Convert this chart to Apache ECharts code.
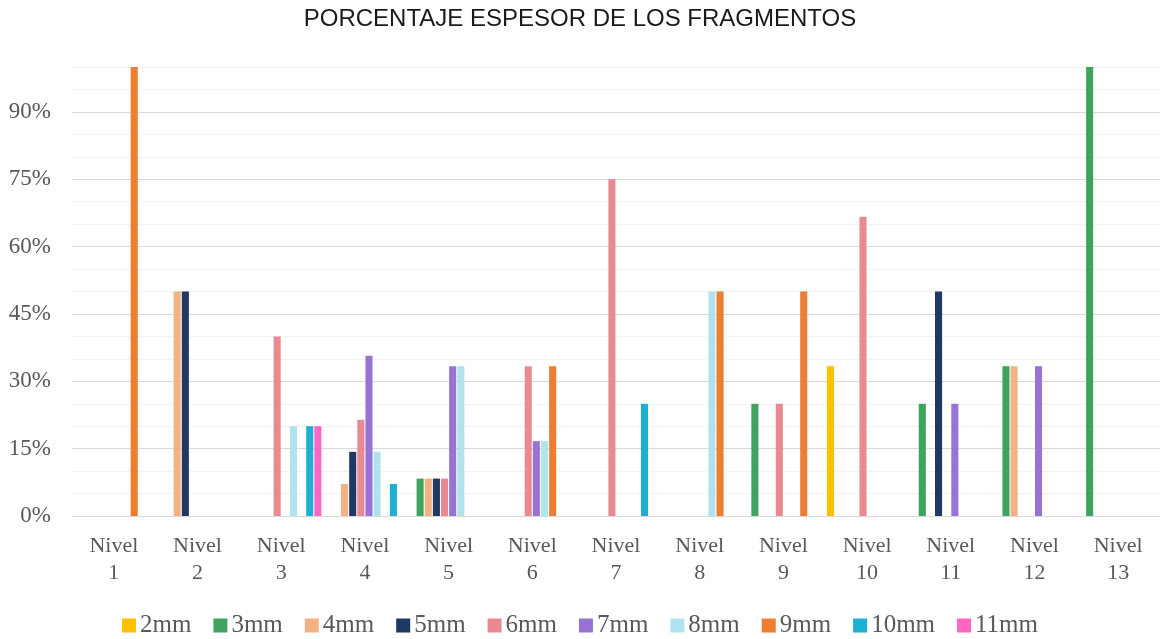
<!DOCTYPE html>
<html>
<head>
<meta charset="utf-8">
<script src="https://cdn.jsdelivr.net/npm/echarts@6/dist/echarts.min.js"></script>
<style>
  html, body { margin: 0; padding: 0; background: #fff; }
  #chart { width: 1160px; height: 639px; }
</style>
</head>
<body>
<div id="chart"></div>
<script>
// Niveles (categorías del eje X)
const niveles = ['Nivel\n1', 'Nivel\n2', 'Nivel\n3', 'Nivel\n4', 'Nivel\n5', 'Nivel\n6', 'Nivel\n7',
                 'Nivel\n8', 'Nivel\n9', 'Nivel\n10', 'Nivel\n11', 'Nivel\n12', 'Nivel\n13'];

// Porcentaje de fragmentos por espesor en cada nivel (null = sin fragmentos)
const esp2mm  = [null, null, null, null, null, null, null, null, null, 33.33, null, null, null];
const esp3mm  = [null, null, null, null, 8.33, null, null, null, 25, null, 25, 33.33, 100];
const esp4mm  = [null, 50, null, 7.14, 8.33, null, null, null, null, null, null, 33.33, null];
const esp5mm  = [null, 50, null, 14.29, 8.33, null, null, null, null, null, 50, null, null];
const esp6mm  = [null, null, 40, 21.43, 8.33, 33.33, 75, null, 25, 66.67, null, null, null];
const esp7mm  = [null, null, null, 35.71, 33.33, 16.67, null, null, null, null, 25, 33.33, null];
const esp8mm  = [null, null, 20, 14.29, 33.33, 16.67, null, 50, null, null, null, null, null];
const esp9mm  = [100, null, null, null, null, 33.33, null, 50, 50, null, null, null, null];
const esp10mm = [null, null, 20, 7.14, null, null, 25, null, null, null, null, null, null];
const esp11mm = [null, null, 20, null, null, null, null, null, null, null, null, null, null];

const nombres = ['2mm', '3mm', '4mm', '5mm', '6mm', '7mm', '8mm', '9mm', '10mm', '11mm'];
const valores = [esp2mm, esp3mm, esp4mm, esp5mm, esp6mm, esp7mm, esp8mm, esp9mm, esp10mm, esp11mm];
const colores = ['#FFC000', '#3DA35D', '#F4B183', '#1F3864', '#E98A91',
                 '#9673D5', '#B0E3EE', '#ED7D31', '#1FAFD3', '#FF66C4'];

const serif = '"Liberation Serif", "DejaVu Serif", serif';
const textGray = '#595959';

const chart = echarts.init(document.getElementById('chart'), null, { renderer: 'canvas' });

chart.setOption({
  animation: false,
  backgroundColor: '#ffffff',
  color: colores,
  title: {
    text: 'PORCENTAJE ESPESOR DE LOS FRAGMENTOS',
    left: 'center',
    top: 7,
    padding: [0, 5, 0, 5],
    textStyle: {
      fontFamily: '"Liberation Sans", Arial, sans-serif',
      fontSize: 24,
      fontWeight: 'normal',
      color: '#1a1a1a'
    }
  },
  legend: {
    bottom: 1,
    left: 'center',
    padding: [0, 5, 0, 5],
    itemWidth: 14,
    itemHeight: 14,
    itemGap: 22,
    icon: 'rect',
    textStyle: { fontFamily: serif, fontSize: 25, color: textGray, padding: [0, 0, 0, -1] },
    data: nombres
  },
  grid: { left: 72, right: 0, top: 67, bottom: 123, containLabel: false },
  xAxis: {
    type: 'category',
    data: niveles,
    axisTick: { show: false },
    axisLine: { show: true, lineStyle: { color: '#d9d9d9', width: 1 } },
    axisLabel: {
      fontFamily: serif,
      fontSize: 22,
      color: textGray,
      lineHeight: 27,
      margin: 17,
      interval: 0
    }
  },
  yAxis: {
    type: 'value',
    min: 0,
    max: 100,
    interval: 5,
    axisLine: { show: false },
    axisTick: { show: false },
    axisLabel: {
      fontFamily: serif,
      fontSize: 23,
      color: textGray,
      margin: 21,
      formatter: function (v) { return v % 15 === 0 && v < 100 ? v + '%' : ''; }
    },
    splitLine: {
      show: true,
      lineStyle: { color: ['#d9d9d9', '#f2f2f2', '#f2f2f2'], width: 1 }
    }
  },
  series: nombres.map(function (n, i) {
    return {
      name: n,
      type: 'bar',
      data: valores[i],
      barGap: '15%',
      barCategoryGap: '4%',
      itemStyle: { color: colores[i] }
    };
  })
});
</script>
</body>
</html>
